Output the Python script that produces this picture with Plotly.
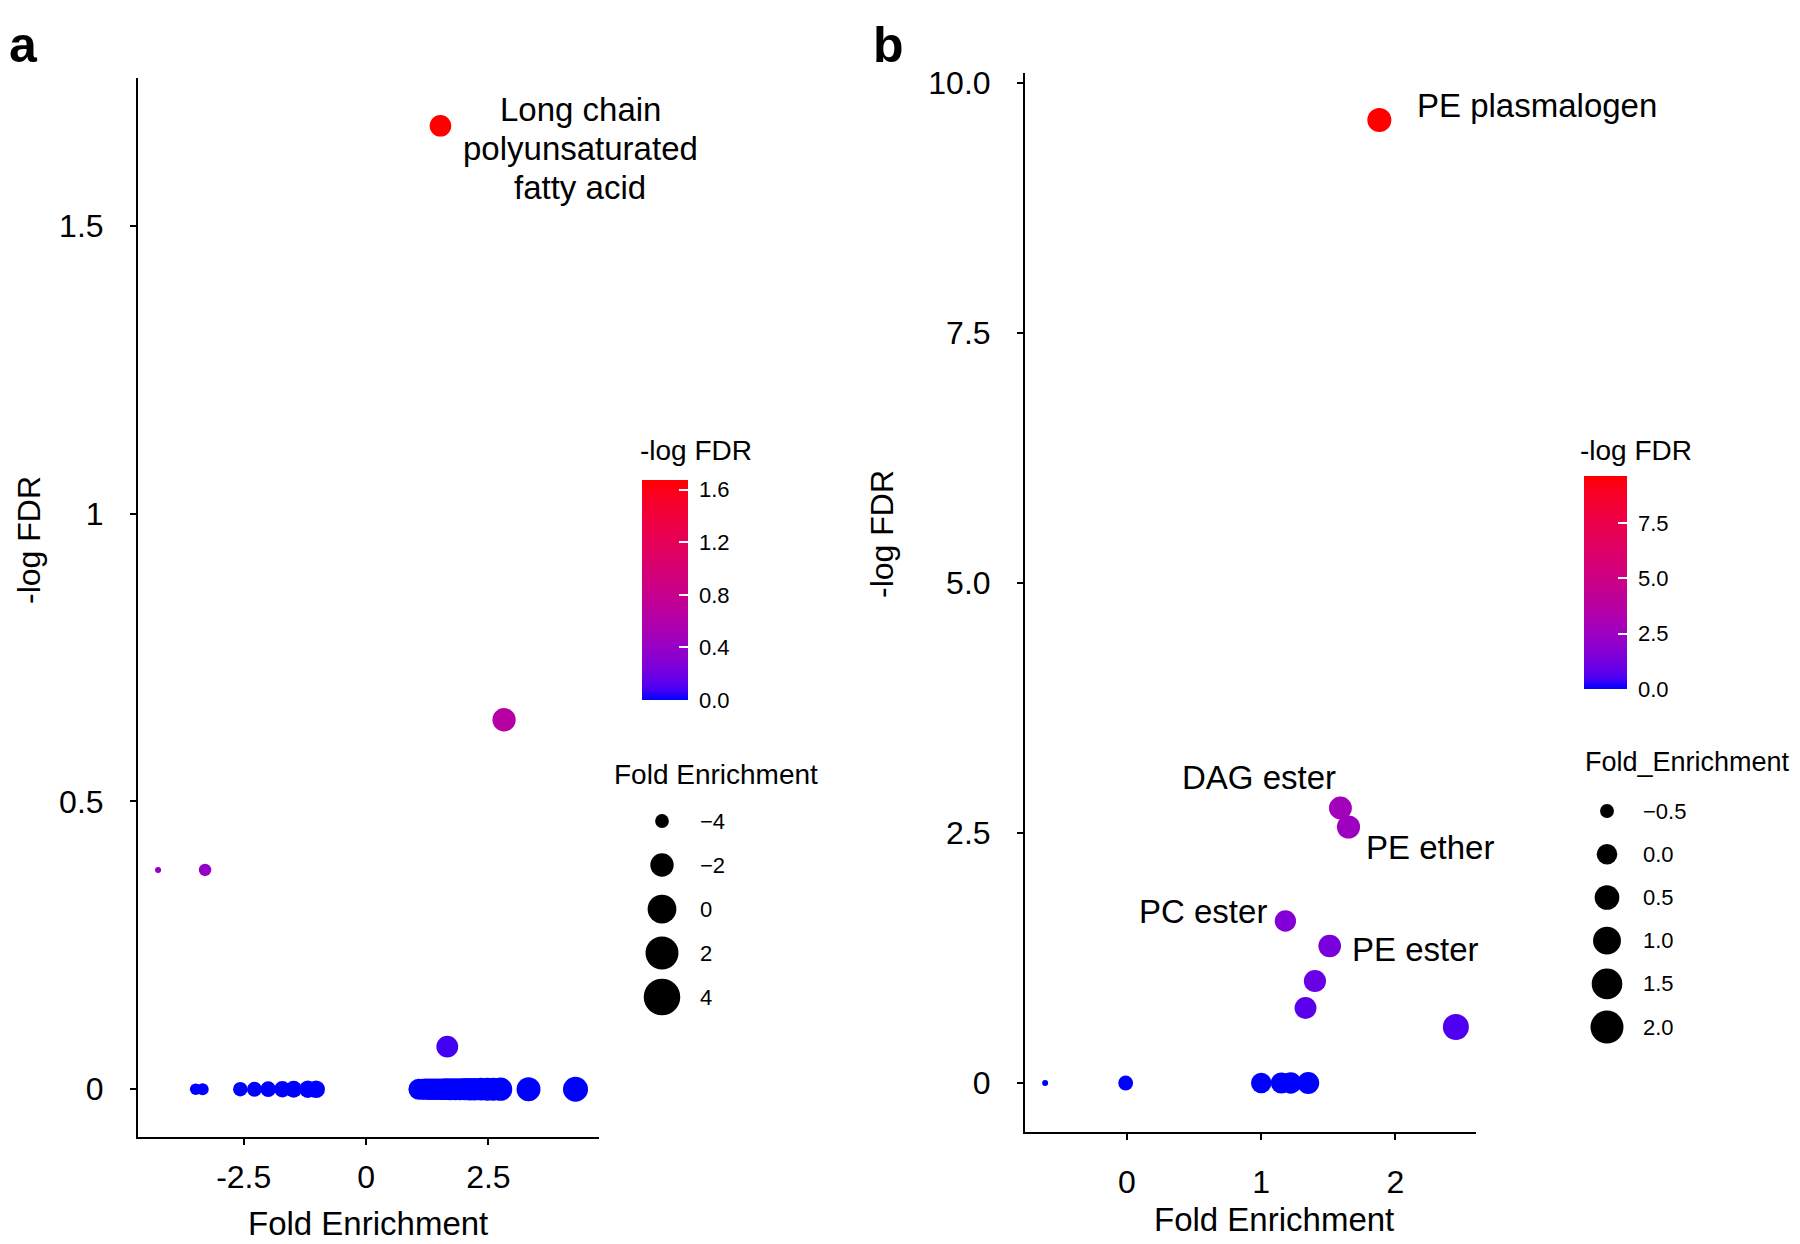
import numpy as np
import plotly.graph_objects as go

# ---------------- data ----------------
# Panel a
a_fold = [-4.25, -3.29, 1.52, 2.82, 1.66,
          -3.48, -3.34, -2.57, -2.28, -2.00, -1.71, -1.48, -1.19, -1.02,
          1.08, 1.15, 1.22, 1.30, 1.38, 1.46, 1.55, 1.63, 1.72, 1.82, 1.92,
          2.02, 2.12, 2.22, 2.35, 2.48, 2.60, 2.75, 3.32, 4.28]
a_logfdr = [0.381, 0.381, 1.674, 0.642, 0.074,
            0, 0, 0, 0, 0, 0, 0, 0, 0,
            0, 0, 0, 0, 0, 0, 0, 0, 0, 0, 0,
            0, 0, 0, 0, 0, 0, 0, 0, 0]
a_labels = {2: ["Long chain", "polyunsaturated", "fatty acid"]}

# Panel b
b_fold = [1.88, 1.59, 1.65, 1.18, 1.51, 1.40, 1.33, 2.45,
          -0.61, -0.01, 1.00, 1.15, 1.22, 1.35]
b_logfdr = [9.63, 2.75, 2.56, 1.62, 1.37, 1.02, 0.75, 0.56,
            0, 0, 0, 0, 0, 0]
b_labels = {0: "PE plasmalogen", 1: "DAG ester", 2: "PE ether",
            3: "PC ester", 4: "PE ester"}

# tick labels
a_xticks = [-2.5, 0, 2.5]
a_xticktext = ["-2.5", "0", "2.5"]
a_yticks = [0, 0.5, 1, 1.5]
a_yticktext = ["0", "0.5", "1", "1.5"]
b_xticks = [0, 1, 2]
b_xticktext = ["0", "1", "2"]
b_yticks = [0, 2.5, 5, 7.5, 10]
b_yticktext = ["0", "2.5", "5.0", "7.5", "10.0"]

a_cbar_ticks = [0.0, 0.4, 0.8, 1.2, 1.6]
b_cbar_ticks = [0.0, 2.5, 5.0, 7.5]
a_size_breaks = [-4, -2, 0, 2, 4]
b_size_breaks = [-0.5, 0.0, 0.5, 1.0, 1.5, 2.0]

# ---------------- styling helpers ----------------
W, H = 1800, 1244
FONT = "Arial, Liberation Sans, Helvetica, sans-serif"


def px_x(p):
    return (p - 8) / W


def px_y(p):
    return 1 - (p - 16) / (H - 8)


def srgb_to_lab(rgb):
    c = np.array(rgb) / 255.0
    c = np.where(c <= 0.04045, c / 12.92, ((c + 0.055) / 1.055) ** 2.4)
    M = np.array([[0.4124, 0.3576, 0.1805],
                  [0.2126, 0.7152, 0.0722],
                  [0.0193, 0.1192, 0.9505]])
    xyz = M @ c / np.array([0.95047, 1.0, 1.08883])
    f = np.where(xyz > 0.008856, np.cbrt(xyz), 7.787 * xyz + 16 / 116)
    return np.array([116 * f[1] - 16, 500 * (f[0] - f[1]), 200 * (f[1] - f[2])])


def lab_to_srgb(lab):
    L, a, b = lab
    fy = (L + 16) / 116
    fx = fy + a / 500
    fz = fy - b / 200
    f = np.array([fx, fy, fz])
    xyz = np.where(f ** 3 > 0.008856, f ** 3, (f - 16 / 116) / 7.787)
    xyz = xyz * np.array([0.95047, 1.0, 1.08883])
    Mi = np.array([[3.2406, -1.5372, -0.4986],
                   [-0.9689, 1.8758, 0.0415],
                   [0.0557, -0.2040, 1.0570]])
    c = Mi @ xyz
    c = np.clip(c, 0, 1)
    c = np.where(c <= 0.0031308, 12.92 * c, 1.055 * c ** (1 / 2.4) - 0.055)
    c = np.clip(np.round(c * 255), 0, 255).astype(int)
    return f"rgb({c[0]},{c[1]},{c[2]})"


lab_lo = srgb_to_lab((0, 0, 255))
lab_hi = srgb_to_lab((255, 0, 0))
colorscale = [[t, lab_to_srgb(lab_lo + (lab_hi - lab_lo) * t)]
              for t in np.linspace(0, 1, 21)]


def size_map(vals, vmin, vmax, dmin, dmax):
    t = np.clip((np.array(vals, float) - vmin) / (vmax - vmin), 0, 1)
    return dmin + (dmax - dmin) * np.sqrt(t)


a_min, a_max = min(a_fold), max(a_fold)
b_min, b_max = min(b_fold), max(b_fold)

fig = go.Figure()

# ---------------- panel a points ----------------
fig.add_trace(go.Scatter(
    x=a_fold, y=a_logfdr, mode="markers", xaxis="x", yaxis="y",
    marker=dict(size=size_map(a_fold, a_min, a_max, 6, 25),
                color=a_logfdr, coloraxis="coloraxis",
                line=dict(width=0), opacity=1),
    hoverinfo="skip", showlegend=False))

# ---------------- panel b points ----------------
fig.add_trace(go.Scatter(
    x=b_fold, y=b_logfdr, mode="markers", xaxis="x2", yaxis="y2",
    marker=dict(size=size_map(b_fold, b_min, b_max, 6, 26),
                color=b_logfdr, coloraxis="coloraxis2",
                line=dict(width=0), opacity=1),
    hoverinfo="skip", showlegend=False))

# ---------------- size legends ----------------
fig.add_trace(go.Scatter(
    x=[0] * len(a_size_breaks), y=[-i for i in range(len(a_size_breaks))],
    mode="markers", xaxis="x3", yaxis="y3",
    marker=dict(size=size_map(a_size_breaks, a_min, a_max, 9, 37),
                color="black", line=dict(width=0), opacity=1),
    hoverinfo="skip", showlegend=False))
fig.add_trace(go.Scatter(
    x=[0] * len(b_size_breaks), y=[-i for i in range(len(b_size_breaks))],
    mode="markers", xaxis="x4", yaxis="y4",
    marker=dict(size=size_map(b_size_breaks, b_min, b_max, 9, 35),
                color="black", line=dict(width=0), opacity=1),
    hoverinfo="skip", showlegend=False))

LEG_FONT = dict(size=22, family=FONT, color="black")
annotations = []
for i, v in enumerate(a_size_breaks):
    annotations.append(dict(x=0, y=-i, xref="x3", yref="y3", xshift=36,
                            text=f"{v:g}".replace("-", "\u2212"),
                            xanchor="left", yanchor="middle", showarrow=False,
                            font=LEG_FONT))
for i, v in enumerate(b_size_breaks):
    annotations.append(dict(x=0, y=-i, xref="x4", yref="y4", xshift=34,
                            text=f"{v:.1f}".replace("-", "\u2212"),
                            xanchor="left", yanchor="middle", showarrow=False,
                            font=LEG_FONT))

# legend titles
LT_FONT = dict(size=28, family=FONT, color="black")
annotations += [
    dict(x=px_x(612), y=px_y(774), xref="paper", yref="paper",
         text="Fold Enrichment", xanchor="left", yanchor="middle",
         showarrow=False, font=LT_FONT),
    dict(x=px_x(1583), y=px_y(762), xref="paper", yref="paper",
         text="Fold_Enrichment", xanchor="left", yanchor="middle",
         showarrow=False, font=dict(size=27, family=FONT, color="black")),
    dict(x=px_x(638), y=px_y(450), xref="paper", yref="paper",
         text="-log FDR", xanchor="left", yanchor="middle",
         showarrow=False, font=LT_FONT),
    dict(x=px_x(1578), y=px_y(450), xref="paper", yref="paper",
         text="-log FDR", xanchor="left", yanchor="middle",
         showarrow=False, font=LT_FONT),
]

# point labels (offsets in pixels, like ggrepel)
LAB_FONT = dict(size=33, family=FONT, color="black")
a_label_offsets = {2: (140, -23, "center")}
a_line_gap = 39
for idx, lines in a_labels.items():
    dx, dy, anc = a_label_offsets[idx]
    n = len(lines)
    for j, line in enumerate(lines):
        annotations.append(dict(x=a_fold[idx], y=a_logfdr[idx], xref="x", yref="y",
                                xshift=dx, yshift=dy - (j - (n - 1) / 2) * a_line_gap,
                                text=line, xanchor=anc, yanchor="middle",
                                showarrow=False, font=LAB_FONT))

b_label_offsets = {0: (36, 14, "left"), 1: (-81, 31, "center"),
                   2: (82, -20, "center"), 3: (-82, 10, "center"),
                   4: (86, -3, "center")}
for idx, txt in b_labels.items():
    dx, dy, anc = b_label_offsets[idx]
    annotations.append(dict(x=b_fold[idx], y=b_logfdr[idx], xref="x2", yref="y2",
                            xshift=dx, yshift=dy, text=txt, xanchor=anc,
                            yanchor="middle", showarrow=False, font=LAB_FONT))

# axis titles and panel letters
ttl = dict(size=33, family=FONT, color="black")
annotations += [
    dict(x=px_x(368), y=px_y(1223), xref="paper", yref="paper", text="Fold Enrichment",
         showarrow=False, xanchor="center", yanchor="middle", font=ttl),
    dict(x=px_x(1274), y=px_y(1219), xref="paper", yref="paper", text="Fold Enrichment",
         showarrow=False, xanchor="center", yanchor="middle", font=ttl),
    dict(x=px_x(29), y=px_y(540), xref="paper", yref="paper", text="-log FDR",
         showarrow=False, xanchor="center", yanchor="middle", textangle=-90,
         font=dict(size=32, family=FONT, color="black")),
    dict(x=px_x(882), y=px_y(534), xref="paper", yref="paper", text="-log FDR",
         showarrow=False, xanchor="center", yanchor="middle", textangle=-90,
         font=dict(size=32, family=FONT, color="black")),
    dict(x=px_x(8), y=1, xref="paper", yref="paper", text="<b>a</b>",
         showarrow=False, xanchor="left", yanchor="top", borderpad=0,
         font=dict(size=50, family=FONT, color="black")),
    dict(x=px_x(872), y=1, xref="paper", yref="paper", text="<b>b</b>",
         showarrow=False, xanchor="left", yanchor="top", borderpad=0,
         font=dict(size=50, family=FONT, color="black")),
]

axis_common = dict(showline=True, linecolor="black", linewidth=2, showgrid=False,
                   zeroline=False, ticks="outside", ticklen=6, tickwidth=2,
                   tickcolor="black", mirror=False,
                   tickfont=dict(size=32, family=FONT, color="black"))


def cbar(x, ytop, length, thick, ticks):
    return dict(x=x, xanchor="left", xpad=0, y=ytop, yanchor="top", ypad=0,
                len=length, lenmode="pixels", thickness=thick,
                thicknessmode="pixels", outlinewidth=0,
                tickvals=ticks, ticktext=["\u00a0" + f"{t:.1f}" for t in ticks],
                ticks="inside", tickcolor="white", ticklen=9, tickwidth=1.5,
                tickfont=dict(size=22, family=FONT, color="black"))


fig.update_layout(
    width=W, height=H, margin=dict(l=0, r=0, t=0, b=0),
    paper_bgcolor="white", plot_bgcolor="white", showlegend=False,
    font=dict(family=FONT, color="black"),
    xaxis=dict(domain=[px_x(138), px_x(599)], range=[-4.66, 4.76],
               tickvals=a_xticks, ticktext=a_xticktext, anchor="y",
               ticklabelstandoff=5, **axis_common),
    yaxis=dict(domain=[px_y(1137), px_y(78)], range=[-0.083, 1.757],
               tickvals=a_yticks, ticktext=a_yticktext, anchor="x",
               ticklabelstandoff=20, **axis_common),
    xaxis2=dict(domain=[px_x(1025), px_x(1476)], range=[-0.76, 2.6],
                tickvals=b_xticks, ticktext=b_xticktext, anchor="y2",
                ticklabelstandoff=15, **axis_common),
    yaxis2=dict(domain=[px_y(1132), px_y(73)], range=[-0.49, 10.1],
                tickvals=b_yticks, ticktext=b_yticktext, anchor="x2",
                ticklabelstandoff=20, **axis_common),
    xaxis3=dict(domain=[px_x(620), px_x(780)], range=[-42, 118], visible=False,
                anchor="y3", fixedrange=True),
    yaxis3=dict(domain=[px_y(1030), px_y(790)], range=[-4.75, 0.705], visible=False,
                anchor="x3", fixedrange=True),
    xaxis4=dict(domain=[px_x(1580), px_x(1720)], range=[-27, 113], visible=False,
                anchor="y4", fixedrange=True),
    yaxis4=dict(domain=[px_y(1050), px_y(780)], range=[-5.53, 0.718], visible=False,
                anchor="x4", fixedrange=True),
    coloraxis=dict(colorscale=colorscale, cmin=0, cmax=max(a_logfdr),
                   colorbar=cbar(px_x(642), px_y(480), 220, 46, a_cbar_ticks)),
    coloraxis2=dict(colorscale=colorscale, cmin=0, cmax=max(b_logfdr),
                    colorbar=cbar(px_x(1584), px_y(476), 213, 43, b_cbar_ticks)),
    annotations=annotations,
)

fig.write_html("out.html")
